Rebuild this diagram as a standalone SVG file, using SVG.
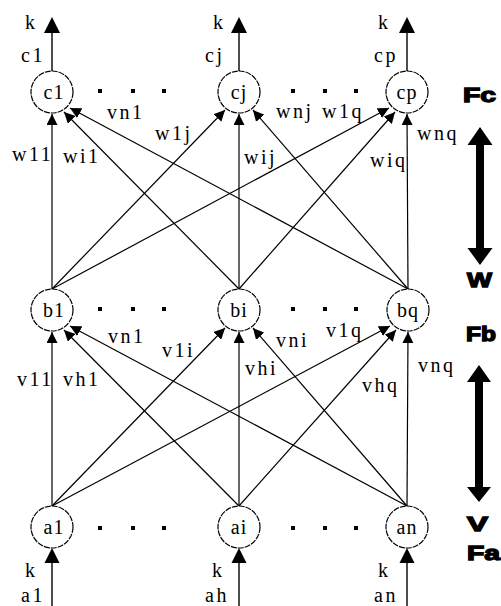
<svg xmlns="http://www.w3.org/2000/svg" width="501" height="606" viewBox="0 0 501 606">
  <style>
    .node { fill: #fff; stroke: #000; stroke-width: 1.2; stroke-dasharray: 6 1; }
    .ntext { font-family: "Liberation Serif", "Times New Roman", serif; font-size: 20px; fill: #000; text-anchor: middle; letter-spacing: 1px; }
    .lbl { font-family: "Liberation Serif", "Times New Roman", serif; font-size: 20px; fill: #000; letter-spacing: 2.5px; }
    .edge { stroke: #000; stroke-width: 1.2; fill: none; marker-end: url(#tip); }
    .io { stroke: #000; stroke-width: 1.4; fill: none; }
    .head { fill: #000; }
    .dot { fill: #000; }
    .side { font-family: "Liberation Sans", Arial, sans-serif; font-weight: bold; font-size: 20px; fill: #000; stroke: #000; stroke-width: 1.3; }
  </style>
  <defs>
    <marker id="tip" viewBox="0 0 11 11" refX="11" refY="5.5" markerWidth="11" markerHeight="11" markerUnits="userSpaceOnUse" orient="auto">
      <path d="M0,0 L11,5.5 L0,11 z" fill="#000"/>
    </marker>
  </defs>

  <!-- connectors between layers -->
  <g id="connectors">
    <!-- Fa to Fb (weights v) -->
    <line class="edge" x1="52" y1="506" x2="52" y2="332"/>
    <line class="edge" x1="239" y1="506" x2="64" y2="330"/>
    <line class="edge" x1="407" y1="506" x2="70" y2="326"/>
    <line class="edge" x1="52" y1="506" x2="225" y2="328"/>
    <line class="edge" x1="239" y1="506" x2="239" y2="332"/>
    <line class="edge" x1="407" y1="506" x2="253" y2="328"/>
    <line class="edge" x1="52" y1="506" x2="390" y2="326"/>
    <line class="edge" x1="239" y1="506" x2="396" y2="330"/>
    <line class="edge" x1="407" y1="506" x2="408" y2="332"/>

    <!-- Fb to Fc (weights w) -->
    <line class="edge" x1="52" y1="289" x2="52" y2="114"/>
    <line class="edge" x1="239" y1="289" x2="64" y2="112"/>
    <line class="edge" x1="408" y1="289" x2="70" y2="108"/>
    <line class="edge" x1="52" y1="289" x2="225" y2="110"/>
    <line class="edge" x1="239" y1="289" x2="239" y2="114"/>
    <line class="edge" x1="408" y1="289" x2="253" y2="110"/>
    <line class="edge" x1="52" y1="289" x2="389" y2="108"/>
    <line class="edge" x1="239" y1="289" x2="395" y2="112"/>
    <line class="edge" x1="408" y1="289" x2="407" y2="114"/>

    <!-- outputs k -->
    <line class="io" x1="52" y1="71" x2="52" y2="33"/>
    <polygon class="head" points="52,17 60,33 44,33"/>
    <line class="io" x1="239" y1="71" x2="239" y2="33"/>
    <polygon class="head" points="239,17 247,33 231,33"/>
    <line class="io" x1="407" y1="71" x2="407" y2="33"/>
    <polygon class="head" points="407,17 415,33 399,33"/>

    <!-- inputs k -->
    <line class="io" x1="52" y1="606" x2="52" y2="563"/>
    <polygon class="head" points="52,548 59.5,563 44.5,563"/>
    <line class="io" x1="239" y1="606" x2="239" y2="563"/>
    <polygon class="head" points="239,548 246.5,563 231.5,563"/>
    <line class="io" x1="407" y1="606" x2="407" y2="563"/>
    <polygon class="head" points="407,548 414.5,563 399.5,563"/>
  </g>

  <!-- Fc layer -->
  <g id="c1"><circle class="node" cx="52" cy="92" r="21"/><text class="ntext" x="54" y="99">c1</text></g>
  <g id="cj"><circle class="node" cx="239" cy="92" r="21"/><text class="ntext" x="239" y="99">cj</text></g>
  <g id="cp"><circle class="node" cx="407" cy="92" r="21"/><text class="ntext" x="407" y="99">cp</text></g>

  <!-- Fb layer -->
  <g id="b1"><circle class="node" cx="52" cy="310" r="21"/><text class="ntext" x="54" y="317">b1</text></g>
  <g id="bi"><circle class="node" cx="239" cy="310" r="21"/><text class="ntext" x="239" y="317">bi</text></g>
  <g id="bq"><circle class="node" cx="408" cy="310" r="21"/><text class="ntext" x="408" y="317">bq</text></g>

  <!-- Fa layer -->
  <g id="a1"><circle class="node" cx="52" cy="527" r="21"/><text class="ntext" x="54" y="534">a1</text></g>
  <g id="ai"><circle class="node" cx="239" cy="527" r="21"/><text class="ntext" x="239" y="534">ai</text></g>
  <g id="an"><circle class="node" cx="407" cy="527" r="21"/><text class="ntext" x="407" y="534">an</text></g>

  <!-- ellipsis dots -->
  <g id="dots">
    <rect class="dot" x="98" y="89" width="4" height="4"/>
    <rect class="dot" x="131" y="89" width="4" height="4"/>
    <rect class="dot" x="162" y="89" width="4" height="4"/>
    <rect class="dot" x="291" y="89" width="4" height="4"/>
    <rect class="dot" x="323" y="89" width="4" height="4"/>
    <rect class="dot" x="354" y="89" width="4" height="4"/>
    <rect class="dot" x="98" y="307" width="4" height="4"/>
    <rect class="dot" x="131" y="307" width="4" height="4"/>
    <rect class="dot" x="162" y="307" width="4" height="4"/>
    <rect class="dot" x="291" y="307" width="4" height="4"/>
    <rect class="dot" x="323" y="307" width="4" height="4"/>
    <rect class="dot" x="354" y="307" width="4" height="4"/>
    <rect class="dot" x="98" y="526" width="4" height="4"/>
    <rect class="dot" x="131" y="526" width="4" height="4"/>
    <rect class="dot" x="162" y="526" width="4" height="4"/>
    <rect class="dot" x="291" y="526" width="4" height="4"/>
    <rect class="dot" x="323" y="526" width="4" height="4"/>
    <rect class="dot" x="354" y="526" width="4" height="4"/>
  </g>

  <!-- output / input labels -->
  <g id="io-labels">
    <text class="lbl" x="25" y="29">k</text>
    <text class="lbl" x="21" y="62">c1</text>
    <text class="lbl" x="213" y="29">k</text>
    <text class="lbl" x="205" y="62">cj</text>
    <text class="lbl" x="378" y="29">k</text>
    <text class="lbl" x="374" y="62">cp</text>
    <text class="lbl" x="25" y="577">k</text>
    <text class="lbl" x="21" y="602">a1</text>
    <text class="lbl" x="212" y="577">k</text>
    <text class="lbl" x="205" y="602">ah</text>
    <text class="lbl" x="378" y="577">k</text>
    <text class="lbl" x="374" y="602">an</text>
  </g>

  <!-- weight labels -->
  <g id="weight-labels">
    <text class="lbl" x="107" y="119">vn1</text>
    <text class="lbl" x="155" y="140">w1j</text>
    <text class="lbl" x="12" y="161">w11</text>
    <text class="lbl" x="63" y="163">wi1</text>
    <text class="lbl" x="244" y="164">wij</text>
    <text class="lbl" x="276" y="118">wnj</text>
    <text class="lbl" x="322" y="118">w1q</text>
    <text class="lbl" x="417" y="140">wnq</text>
    <text class="lbl" x="370" y="167">wiq</text>

    <text class="lbl" x="108" y="343">vn1</text>
    <text class="lbl" x="162" y="357">v1i</text>
    <text class="lbl" x="17" y="386">v11</text>
    <text class="lbl" x="63" y="386">vh1</text>
    <text class="lbl" x="245" y="375">vhi</text>
    <text class="lbl" x="276" y="347">vni</text>
    <text class="lbl" x="326" y="337">v1q</text>
    <text class="lbl" x="418" y="372">vnq</text>
    <text class="lbl" x="362" y="392">vhq</text>
  </g>

  <!-- layer names and weight-direction arrows -->
  <g id="side">
    <text class="side" x="463" y="102" textLength="33" lengthAdjust="spacingAndGlyphs">Fc</text>
    <polygon class="head" points="480,127 492.5,145 484,145 484,248 492.5,248 480,265 467.5,248 476,248 476,145 467.5,145"/>
    <text class="side" x="467" y="287" textLength="25" lengthAdjust="spacingAndGlyphs">W</text>
    <text class="side" x="466" y="341" textLength="30" lengthAdjust="spacingAndGlyphs">Fb</text>
    <polygon class="head" points="479,365 491,382 483,382 483,487 491,487 479,502 467,487 475,487 475,382 467,382"/>
    <text class="side" x="467" y="531" textLength="21" lengthAdjust="spacingAndGlyphs">V</text>
    <text class="side" x="467" y="560" textLength="33" lengthAdjust="spacingAndGlyphs">Fa</text>
  </g>
</svg>
